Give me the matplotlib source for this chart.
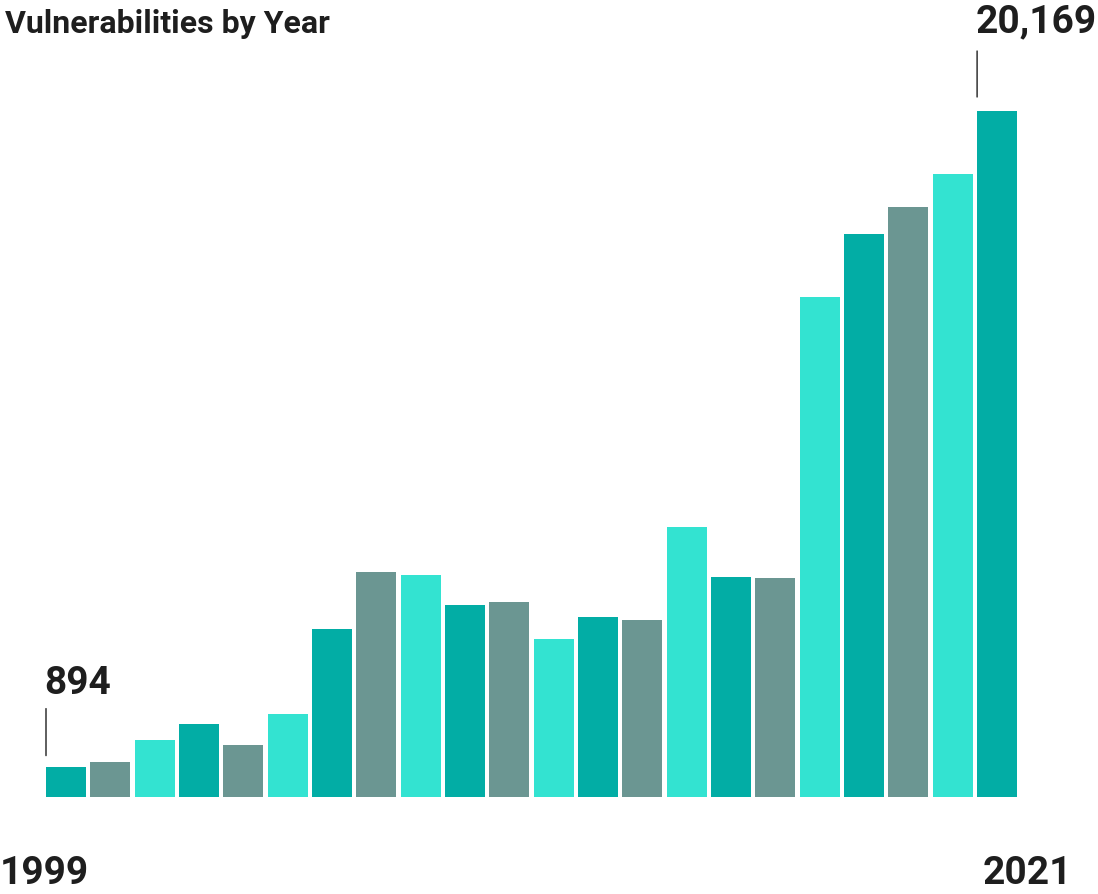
import matplotlib
matplotlib.use("Agg")
import matplotlib.pyplot as plt
import matplotlib.transforms as mtransforms

years = [1999, 2000, 2001, 2002, 2003, 2004, 2005, 2006, 2007, 2008, 2009, 2010,
         2012, 2013, 2014, 2015, 2016, 2017, 2018, 2019, 2020, 2021]
values = [894, 1020, 1677, 2156, 1527, 2451, 4935, 6610, 6520, 5632, 5736, 4652,
          5297, 5191, 7946, 6480, 6447, 14714, 16557, 17344, 18325, 20169]
palette = ["#02ADA5", "#6B9692", "#33E3D1"]
title = "Vulnerabilities by Year"
first_label, last_label = "1999", "2021"

text_color = "#1e1e1e"
fig = plt.figure(figsize=(10.98, 8.94), dpi=100)
ax = fig.add_axes([46/1098, 97/894, 971/1098, 686/894])
x = list(range(len(values)))
colors = [palette[i % 3] for i in x]
ax.bar(x, values, width=0.9, color=colors, edgecolor="none", align="center")
ax.set_xlim(-0.45, len(values) - 0.55)
ax.set_ylim(0, max(values))
ax.axis("off")

def mark(i, label, gap_px, len_px, text_gap_px, font):
    xl = i - 0.45
    tr0 = ax.transData + mtransforms.ScaledTranslation(0, gap_px / 100, fig.dpi_scale_trans)
    tr1 = ax.transData + mtransforms.ScaledTranslation(0, (gap_px + len_px) / 100, fig.dpi_scale_trans)
    ax.annotate("", xy=(xl, values[i]), xycoords=tr0, xytext=(xl, values[i]), textcoords=tr1,
                arrowprops=dict(arrowstyle="-", color=text_color, lw=1, shrinkA=0, shrinkB=0),
                annotation_clip=False)
    ax.annotate(label, xy=(xl, values[i]), xycoords="data",
                xytext=(-1, (gap_px + len_px + text_gap_px) * 0.72), textcoords="offset points",
                ha="left", va="baseline", fontsize=28, fontweight="bold", family=font,
                color=text_color, annotation_clip=False)

mark(0, f"{values[0]:,}", 11, 47, 15, "Roboto")
mark(len(values) - 1, f"{values[-1]:,}", 14, 46, 19, "Roboto")

fig.text(5/1098, 1 - 33/894, title, ha="left", va="baseline", fontsize=23,
         fontweight="bold", family="Roboto", color=text_color)
fig.text(0/1098, 1 - 884/894, first_label, ha="left", va="baseline", fontsize=28,
         fontweight="bold", family="Roboto", color=text_color)
fig.text(1072/1098, 1 - 884/894, last_label, ha="right", va="baseline", fontsize=28,
         fontweight="bold", family="Roboto", color=text_color)

fig.savefig("out.png", dpi=100, facecolor="white")
